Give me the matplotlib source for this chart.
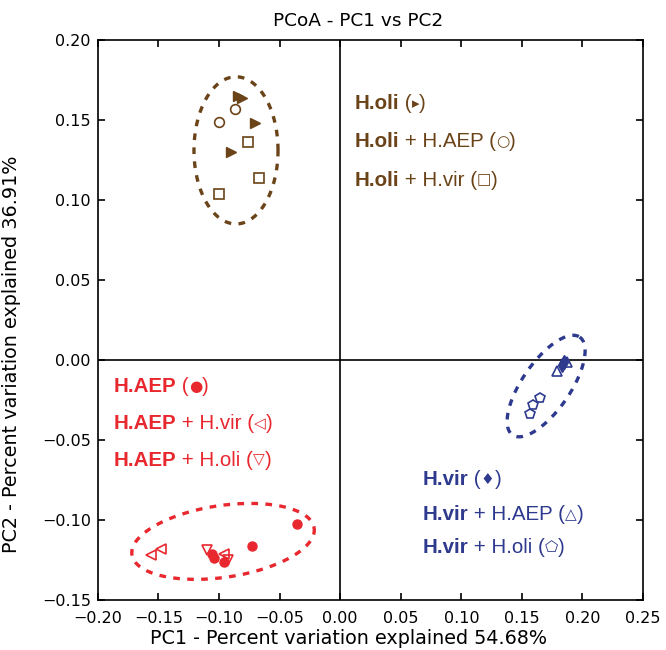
import numpy as np
import matplotlib
matplotlib.use("Agg")
import matplotlib.pyplot as plt

# ---------------- data ----------------
oli_x = [-0.084, -0.081, -0.070, -0.090]
oli_y = [0.165, 0.164, 0.148, 0.130]
oli_aep_x = [-0.087, -0.100]
oli_aep_y = [0.157, 0.149]
oli_vir_x = [-0.076, -0.067, -0.100]
oli_vir_y = [0.136, 0.114, 0.104]

aep_x = [-0.0355, -0.073, -0.104, -0.096, -0.106]
aep_y = [-0.1025, -0.116, -0.124, -0.126, -0.121]
aep_vir_x = [-0.148, -0.156, -0.096]
aep_vir_y = [-0.118, -0.122, -0.121]
aep_oli_x = [-0.110, -0.093]
aep_oli_y = [-0.119, -0.125]

vir_x = [0.183, 0.185]
vir_y = [-0.003, -0.001]
vir_aep_x = [0.187, 0.179]
vir_aep_y = [-0.001, -0.007]
vir_oli_x = [0.165, 0.159, 0.157]
vir_oli_y = [-0.024, -0.028, -0.034]

brown = "#6b4318"
red = "#e8282e"
blue = "#2e3a8e"

fig = plt.figure(figsize=(6.66, 6.5), dpi=100)
ax = fig.add_axes([0.147, 0.077, 0.8185, 0.8615])

ax.axhline(0, color="black", lw=1.2, zorder=1)
ax.axvline(0, color="black", lw=1.2, zorder=1)

# H.oli group
ax.plot(oli_x, oli_y, ">", color=brown, ms=7, ls="none")
ax.plot(oli_aep_x, oli_aep_y, "o", mfc="none", mec=brown, ms=7, mew=1.2, ls="none")
ax.plot(oli_vir_x, oli_vir_y, "s", mfc="none", mec=brown, ms=7.5, mew=1.2, ls="none")

# H.AEP group
ax.plot(aep_x, aep_y, "o", color=red, ms=6.5, ls="none")
ax.plot(aep_vir_x, aep_vir_y, "<", mfc="none", mec=red, ms=7.5, mew=1.2, ls="none")
ax.plot(aep_oli_x, aep_oli_y, "v", mfc="none", mec=red, ms=7.5, mew=1.2, ls="none")

# H.vir group
ax.plot(vir_x, vir_y, "d", color=blue, ms=7, ls="none")
ax.plot(vir_aep_x, vir_aep_y, "^", mfc="none", mec=blue, ms=7.5, mew=1.2, ls="none")
ax.plot(vir_oli_x, vir_oli_y, "p", mfc="none", mec=blue, ms=7.5, mew=1.2, ls="none")

# dashed ellipses: centre + two half-axis vectors
t = np.linspace(0, 2 * np.pi, 300)
def ellipse(c, a, b, col):
    ex = c[0] + a[0] * np.cos(t) + b[0] * np.sin(t)
    ey = c[1] + a[1] * np.cos(t) + b[1] * np.sin(t)
    ax.plot(ex, ey, color=col, lw=2.4, ls=(0, (2, 2.2)))

ellipse((-0.086, 0.131), (0.0347, 0.0), (0.0, 0.046), brown)
ellipse((0.170, -0.0163), (0.0277, 0.0306), (0.0164, -0.0084), blue)
ellipse((-0.0967, -0.1134), (0.0752, 0.0084), (0.0044, -0.0222), red)

# labels: bold name, regular rest, chained one after another
fam = ["Liberation Sans", "DejaVu Sans"]
def label(x, y, bold, rest, sym, col):
    t1 = ax.text(x, y, bold, color=col, fontsize=14.8, fontweight="bold",
                 family=fam, va="baseline")
    t2 = ax.annotate(rest + " (", xy=(1, 0), xycoords=t1, color=col,
                     fontsize=14.8, family=fam, va="bottom")
    t3 = ax.annotate(sym, xy=(1, 0), xycoords=t2, xytext=(0, 1.5),
                     textcoords="offset points", color=col,
                     fontsize=11, family=["DejaVu Sans"], va="bottom")
    ax.annotate(")", xy=(1, 0), xycoords=t3, xytext=(0, -1.5), textcoords="offset points",
                color=col, fontsize=14.8, family=fam, va="bottom")

label(0.0116, 0.157, "H.oli", "", "\u25b8", brown)
label(0.0116, 0.133, "H.oli", " + H.AEP", "\u25cb", brown)
label(0.0116, 0.109, "H.oli", " + H.vir", "\u25a1", brown)

label(-0.187, -0.020, "H.AEP", "", "\u25cf", red)
label(-0.187, -0.043, "H.AEP", " + H.vir", "\u25c1", red)
label(-0.187, -0.066, "H.AEP", " + H.oli", "\u25bd", red)

label(0.068, -0.078, "H.vir", "", "\u2666", blue)
label(0.068, -0.100, "H.vir", " + H.AEP", "\u25b3", blue)
label(0.068, -0.1205, "H.vir", " + H.oli", "\u2b20", blue)

ax.set_xlim(-0.20, 0.25)
ax.set_ylim(-0.15, 0.20)
ax.set_xticks(np.arange(-0.20, 0.2501, 0.05))
ax.set_yticks(np.arange(-0.15, 0.2001, 0.05))
ax.tick_params(direction="in", top=True, right=True, labelsize=11.5, length=5, width=1.2)
ax.tick_params(axis="x", pad=8)
ax.tick_params(axis="y", pad=5)
for s in ax.spines.values():
    s.set_linewidth(1.2)

ax.set_title("PCoA - PC1 vs PC2", fontsize=13.3, pad=10, x=0.477)
ax.set_xlabel("PC1 - Percent variation explained 54.68%", fontsize=13.8)
ax.set_ylabel("PC2 - Percent variation explained 36.91%", fontsize=13.8)
ax.xaxis.set_label_coords(0.46, -0.052)
ax.yaxis.set_label_coords(-0.141, 0.439)

fig.savefig("out.png", dpi=100)
